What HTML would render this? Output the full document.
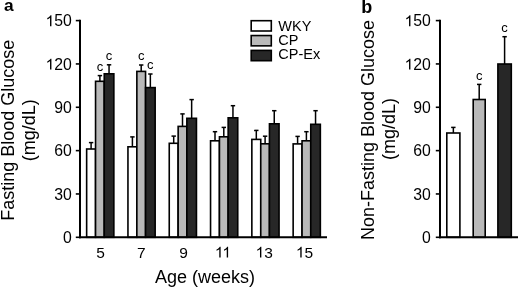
<!DOCTYPE html>
<html><head><meta charset="utf-8"><style>
html,body{margin:0;padding:0;background:#fff;overflow:hidden;}
svg{display:block;filter:grayscale(1);}
text{font-family:"Liberation Sans",sans-serif;fill:#000;}
</style></head><body>
<svg width="518" height="287" viewBox="0 0 518 287">
<rect width="518" height="287" fill="#fff"/>
<line x1="91.10" y1="149.00" x2="91.10" y2="142.60" stroke="#000" stroke-width="1.5"/>
<line x1="88.90" y1="142.60" x2="93.30" y2="142.60" stroke="#000" stroke-width="1.5"/>
<rect x="86.65" y="149.00" width="8.90" height="88.30" fill="#ffffff" stroke="#000" stroke-width="1.6"/>
<line x1="99.90" y1="81.30" x2="99.90" y2="75.60" stroke="#000" stroke-width="1.5"/>
<line x1="97.70" y1="75.60" x2="102.10" y2="75.60" stroke="#000" stroke-width="1.5"/>
<rect x="95.55" y="81.30" width="8.70" height="156.00" fill="#b9b9b9" stroke="#000" stroke-width="1.6"/>
<text x="99.90" y="70.70" font-size="13" text-anchor="middle">c</text>
<line x1="109.05" y1="73.80" x2="109.05" y2="64.80" stroke="#000" stroke-width="1.5"/>
<line x1="106.85" y1="64.80" x2="111.25" y2="64.80" stroke="#000" stroke-width="1.5"/>
<rect x="104.25" y="73.80" width="9.60" height="163.50" fill="#272727" stroke="#000" stroke-width="1.6"/>
<text x="109.05" y="59.90" font-size="13" text-anchor="middle">c</text>
<line x1="132.40" y1="146.80" x2="132.40" y2="136.90" stroke="#000" stroke-width="1.5"/>
<line x1="130.20" y1="136.90" x2="134.60" y2="136.90" stroke="#000" stroke-width="1.5"/>
<rect x="127.95" y="146.80" width="8.90" height="90.50" fill="#ffffff" stroke="#000" stroke-width="1.6"/>
<line x1="141.20" y1="71.40" x2="141.20" y2="65.00" stroke="#000" stroke-width="1.5"/>
<line x1="139.00" y1="65.00" x2="143.40" y2="65.00" stroke="#000" stroke-width="1.5"/>
<rect x="136.85" y="71.40" width="8.70" height="165.90" fill="#b9b9b9" stroke="#000" stroke-width="1.6"/>
<text x="141.20" y="60.10" font-size="13" text-anchor="middle">c</text>
<line x1="150.35" y1="87.60" x2="150.35" y2="74.00" stroke="#000" stroke-width="1.5"/>
<line x1="148.15" y1="74.00" x2="152.55" y2="74.00" stroke="#000" stroke-width="1.5"/>
<rect x="145.55" y="87.60" width="9.60" height="149.70" fill="#272727" stroke="#000" stroke-width="1.6"/>
<text x="150.35" y="69.10" font-size="13" text-anchor="middle">c</text>
<line x1="173.70" y1="143.30" x2="173.70" y2="136.10" stroke="#000" stroke-width="1.5"/>
<line x1="171.50" y1="136.10" x2="175.90" y2="136.10" stroke="#000" stroke-width="1.5"/>
<rect x="169.25" y="143.30" width="8.90" height="94.00" fill="#ffffff" stroke="#000" stroke-width="1.6"/>
<line x1="182.50" y1="126.40" x2="182.50" y2="113.90" stroke="#000" stroke-width="1.5"/>
<line x1="180.30" y1="113.90" x2="184.70" y2="113.90" stroke="#000" stroke-width="1.5"/>
<rect x="178.15" y="126.40" width="8.70" height="110.90" fill="#b9b9b9" stroke="#000" stroke-width="1.6"/>
<line x1="191.65" y1="118.30" x2="191.65" y2="99.60" stroke="#000" stroke-width="1.5"/>
<line x1="189.45" y1="99.60" x2="193.85" y2="99.60" stroke="#000" stroke-width="1.5"/>
<rect x="186.85" y="118.30" width="9.60" height="119.00" fill="#272727" stroke="#000" stroke-width="1.6"/>
<line x1="215.00" y1="140.80" x2="215.00" y2="131.70" stroke="#000" stroke-width="1.5"/>
<line x1="212.80" y1="131.70" x2="217.20" y2="131.70" stroke="#000" stroke-width="1.5"/>
<rect x="210.55" y="140.80" width="8.90" height="96.50" fill="#ffffff" stroke="#000" stroke-width="1.6"/>
<line x1="223.80" y1="136.80" x2="223.80" y2="127.40" stroke="#000" stroke-width="1.5"/>
<line x1="221.60" y1="127.40" x2="226.00" y2="127.40" stroke="#000" stroke-width="1.5"/>
<rect x="219.45" y="136.80" width="8.70" height="100.50" fill="#b9b9b9" stroke="#000" stroke-width="1.6"/>
<line x1="232.95" y1="117.80" x2="232.95" y2="105.70" stroke="#000" stroke-width="1.5"/>
<line x1="230.75" y1="105.70" x2="235.15" y2="105.70" stroke="#000" stroke-width="1.5"/>
<rect x="228.15" y="117.80" width="9.60" height="119.50" fill="#272727" stroke="#000" stroke-width="1.6"/>
<line x1="256.30" y1="139.40" x2="256.30" y2="130.40" stroke="#000" stroke-width="1.5"/>
<line x1="254.10" y1="130.40" x2="258.50" y2="130.40" stroke="#000" stroke-width="1.5"/>
<rect x="251.85" y="139.40" width="8.90" height="97.90" fill="#ffffff" stroke="#000" stroke-width="1.6"/>
<line x1="265.10" y1="143.80" x2="265.10" y2="136.20" stroke="#000" stroke-width="1.5"/>
<line x1="262.90" y1="136.20" x2="267.30" y2="136.20" stroke="#000" stroke-width="1.5"/>
<rect x="260.75" y="143.80" width="8.70" height="93.50" fill="#b9b9b9" stroke="#000" stroke-width="1.6"/>
<line x1="274.25" y1="123.80" x2="274.25" y2="110.70" stroke="#000" stroke-width="1.5"/>
<line x1="272.05" y1="110.70" x2="276.45" y2="110.70" stroke="#000" stroke-width="1.5"/>
<rect x="269.45" y="123.80" width="9.60" height="113.50" fill="#272727" stroke="#000" stroke-width="1.6"/>
<line x1="297.60" y1="143.90" x2="297.60" y2="136.40" stroke="#000" stroke-width="1.5"/>
<line x1="295.40" y1="136.40" x2="299.80" y2="136.40" stroke="#000" stroke-width="1.5"/>
<rect x="293.15" y="143.90" width="8.90" height="93.40" fill="#ffffff" stroke="#000" stroke-width="1.6"/>
<line x1="306.40" y1="140.80" x2="306.40" y2="131.70" stroke="#000" stroke-width="1.5"/>
<line x1="304.20" y1="131.70" x2="308.60" y2="131.70" stroke="#000" stroke-width="1.5"/>
<rect x="302.05" y="140.80" width="8.70" height="96.50" fill="#b9b9b9" stroke="#000" stroke-width="1.6"/>
<line x1="315.55" y1="124.30" x2="315.55" y2="110.70" stroke="#000" stroke-width="1.5"/>
<line x1="313.35" y1="110.70" x2="317.75" y2="110.70" stroke="#000" stroke-width="1.5"/>
<rect x="310.75" y="124.30" width="9.60" height="113.00" fill="#272727" stroke="#000" stroke-width="1.6"/>
<line x1="453.35" y1="133.00" x2="453.35" y2="127.40" stroke="#000" stroke-width="1.5"/>
<line x1="451.15" y1="127.40" x2="455.55" y2="127.40" stroke="#000" stroke-width="1.5"/>
<rect x="446.80" y="133.00" width="13.10" height="104.30" fill="#ffffff" stroke="#000" stroke-width="1.6"/>
<line x1="479.20" y1="99.50" x2="479.20" y2="84.40" stroke="#000" stroke-width="1.5"/>
<line x1="477.00" y1="84.40" x2="481.40" y2="84.40" stroke="#000" stroke-width="1.5"/>
<rect x="473.20" y="99.50" width="12.00" height="137.80" fill="#b9b9b9" stroke="#000" stroke-width="1.6"/>
<text x="479.20" y="79.50" font-size="13" text-anchor="middle">c</text>
<line x1="504.60" y1="64.00" x2="504.60" y2="36.70" stroke="#000" stroke-width="1.5"/>
<line x1="502.40" y1="36.70" x2="506.80" y2="36.70" stroke="#000" stroke-width="1.5"/>
<rect x="497.90" y="64.00" width="13.40" height="173.30" fill="#272727" stroke="#000" stroke-width="1.6"/>
<text x="504.60" y="31.80" font-size="13" text-anchor="middle">c</text>
<line x1="80" y1="19.80" x2="80" y2="238.30" stroke="#000" stroke-width="2"/>
<line x1="79" y1="237.30" x2="327" y2="237.30" stroke="#000" stroke-width="2"/>
<line x1="75.80" y1="237.30" x2="80.00" y2="237.30" stroke="#000" stroke-width="1.6"/>
<text transform="translate(63.113,242.900) scale(1,1.0)" font-size="15.8">0</text>
<line x1="75.80" y1="193.96" x2="80.00" y2="193.96" stroke="#000" stroke-width="1.6"/>
<text transform="translate(54.326,199.560) scale(1,1.0)" font-size="15.8">3</text>
<text transform="translate(63.113,199.560) scale(1,1.0)" font-size="15.8">0</text>
<line x1="75.80" y1="150.62" x2="80.00" y2="150.62" stroke="#000" stroke-width="1.6"/>
<text transform="translate(54.326,156.220) scale(1,1.0)" font-size="15.8">6</text>
<text transform="translate(63.113,156.220) scale(1,1.0)" font-size="15.8">0</text>
<line x1="75.80" y1="107.28" x2="80.00" y2="107.28" stroke="#000" stroke-width="1.6"/>
<text transform="translate(54.326,112.880) scale(1,1.0)" font-size="15.8">9</text>
<text transform="translate(63.113,112.880) scale(1,1.0)" font-size="15.8">0</text>
<line x1="75.80" y1="63.94" x2="80.00" y2="63.94" stroke="#000" stroke-width="1.6"/>
<path d="M763 0L583 0L583 1147Q518 1085 412.5 1023Q307 961 223 930L223 1104Q374 1175 487 1276Q600 1377 647 1472L763 1472Z" transform="translate(45.538,69.540) scale(0.007715,-0.007385)" fill="#000"/>
<text transform="translate(54.326,69.540) scale(1,1.0)" font-size="15.8">2</text>
<text transform="translate(63.113,69.540) scale(1,1.0)" font-size="15.8">0</text>
<line x1="75.80" y1="20.60" x2="80.00" y2="20.60" stroke="#000" stroke-width="1.6"/>
<path d="M763 0L583 0L583 1147Q518 1085 412.5 1023Q307 961 223 930L223 1104Q374 1175 487 1276Q600 1377 647 1472L763 1472Z" transform="translate(45.538,26.200) scale(0.007715,-0.007385)" fill="#000"/>
<text transform="translate(54.326,26.200) scale(1,1.0)" font-size="15.8">5</text>
<text transform="translate(63.113,26.200) scale(1,1.0)" font-size="15.8">0</text>
<line x1="440" y1="19.80" x2="440" y2="238.30" stroke="#000" stroke-width="2"/>
<line x1="439" y1="237.30" x2="518" y2="237.30" stroke="#000" stroke-width="2"/>
<line x1="435.80" y1="237.30" x2="440.00" y2="237.30" stroke="#000" stroke-width="1.6"/>
<text transform="translate(422.113,242.900) scale(1,1.0)" font-size="15.8">0</text>
<line x1="435.80" y1="193.96" x2="440.00" y2="193.96" stroke="#000" stroke-width="1.6"/>
<text transform="translate(413.326,199.560) scale(1,1.0)" font-size="15.8">3</text>
<text transform="translate(422.113,199.560) scale(1,1.0)" font-size="15.8">0</text>
<line x1="435.80" y1="150.62" x2="440.00" y2="150.62" stroke="#000" stroke-width="1.6"/>
<text transform="translate(413.326,156.220) scale(1,1.0)" font-size="15.8">6</text>
<text transform="translate(422.113,156.220) scale(1,1.0)" font-size="15.8">0</text>
<line x1="435.80" y1="107.28" x2="440.00" y2="107.28" stroke="#000" stroke-width="1.6"/>
<text transform="translate(413.326,112.880) scale(1,1.0)" font-size="15.8">9</text>
<text transform="translate(422.113,112.880) scale(1,1.0)" font-size="15.8">0</text>
<line x1="435.80" y1="63.94" x2="440.00" y2="63.94" stroke="#000" stroke-width="1.6"/>
<path d="M763 0L583 0L583 1147Q518 1085 412.5 1023Q307 961 223 930L223 1104Q374 1175 487 1276Q600 1377 647 1472L763 1472Z" transform="translate(404.538,69.540) scale(0.007715,-0.007385)" fill="#000"/>
<text transform="translate(413.326,69.540) scale(1,1.0)" font-size="15.8">2</text>
<text transform="translate(422.113,69.540) scale(1,1.0)" font-size="15.8">0</text>
<line x1="435.80" y1="20.60" x2="440.00" y2="20.60" stroke="#000" stroke-width="1.6"/>
<path d="M763 0L583 0L583 1147Q518 1085 412.5 1023Q307 961 223 930L223 1104Q374 1175 487 1276Q600 1377 647 1472L763 1472Z" transform="translate(404.538,26.200) scale(0.007715,-0.007385)" fill="#000"/>
<text transform="translate(413.326,26.200) scale(1,1.0)" font-size="15.8">5</text>
<text transform="translate(422.113,26.200) scale(1,1.0)" font-size="15.8">0</text>
<text transform="translate(96.190,257.500) scale(1,1.0)" font-size="15.5">5</text>
<text transform="translate(137.090,257.500) scale(1,1.0)" font-size="15.5">7</text>
<text transform="translate(179.190,257.500) scale(1,1.0)" font-size="15.5">9</text>
<path d="M763 0L583 0L583 1147Q518 1085 412.5 1023Q307 961 223 930L223 1104Q374 1175 487 1276Q600 1377 647 1472L763 1472Z" transform="translate(214.855,257.500) scale(0.007568,-0.007244)" fill="#000"/>
<path d="M763 0L583 0L583 1147Q518 1085 412.5 1023Q307 961 223 930L223 1104Q374 1175 487 1276Q600 1377 647 1472L763 1472Z" transform="translate(222.325,257.500) scale(0.007568,-0.007244)" fill="#000"/>
<path d="M763 0L583 0L583 1147Q518 1085 412.5 1023Q307 961 223 930L223 1104Q374 1175 487 1276Q600 1377 647 1472L763 1472Z" transform="translate(255.580,257.500) scale(0.007568,-0.007244)" fill="#000"/>
<text transform="translate(264.200,257.500) scale(1,1.0)" font-size="15.5">3</text>
<path d="M763 0L583 0L583 1147Q518 1085 412.5 1023Q307 961 223 930L223 1104Q374 1175 487 1276Q600 1377 647 1472L763 1472Z" transform="translate(295.880,257.500) scale(0.007568,-0.007244)" fill="#000"/>
<text transform="translate(304.500,257.500) scale(1,1.0)" font-size="15.5">5</text>
<text x="205" y="282.7" font-size="18" text-anchor="middle">Age (weeks)</text>
<text transform="translate(13.9,130.2) rotate(-90)" font-size="18" text-anchor="middle">Fasting Blood Glucose</text>
<text transform="translate(35.4,130.2) rotate(-90)" font-size="18" text-anchor="middle">(mg/dL)</text>
<text transform="translate(374.0,130.0) rotate(-90)" font-size="18" text-anchor="middle">Non-Fasting Blood Glucose</text>
<text transform="translate(395.3,128.9) rotate(-90)" font-size="18" text-anchor="middle">(mg/dL)</text>
<text x="4.0" y="10.7" font-size="17.3" font-weight="bold">a</text>
<text x="361.2" y="13.3" font-size="18" font-weight="bold">b</text>
<rect x="251.2" y="20.70" width="20.1" height="10.3" fill="#ffffff" stroke="#000" stroke-width="1.6"/>
<text transform="translate(278.3,30.70) scale(1,1.05)" font-size="14.5">WKY</text>
<rect x="251.2" y="35.55" width="20.1" height="10.3" fill="#b9b9b9" stroke="#000" stroke-width="1.6"/>
<text transform="translate(278.3,44.90) scale(1,1.05)" font-size="14.5">CP</text>
<rect x="251.2" y="50.40" width="20.1" height="10.3" fill="#272727" stroke="#000" stroke-width="1.6"/>
<text transform="translate(278.3,59.10) scale(1,1.05)" font-size="14.5">CP-Ex</text>
</svg>
</body></html>
